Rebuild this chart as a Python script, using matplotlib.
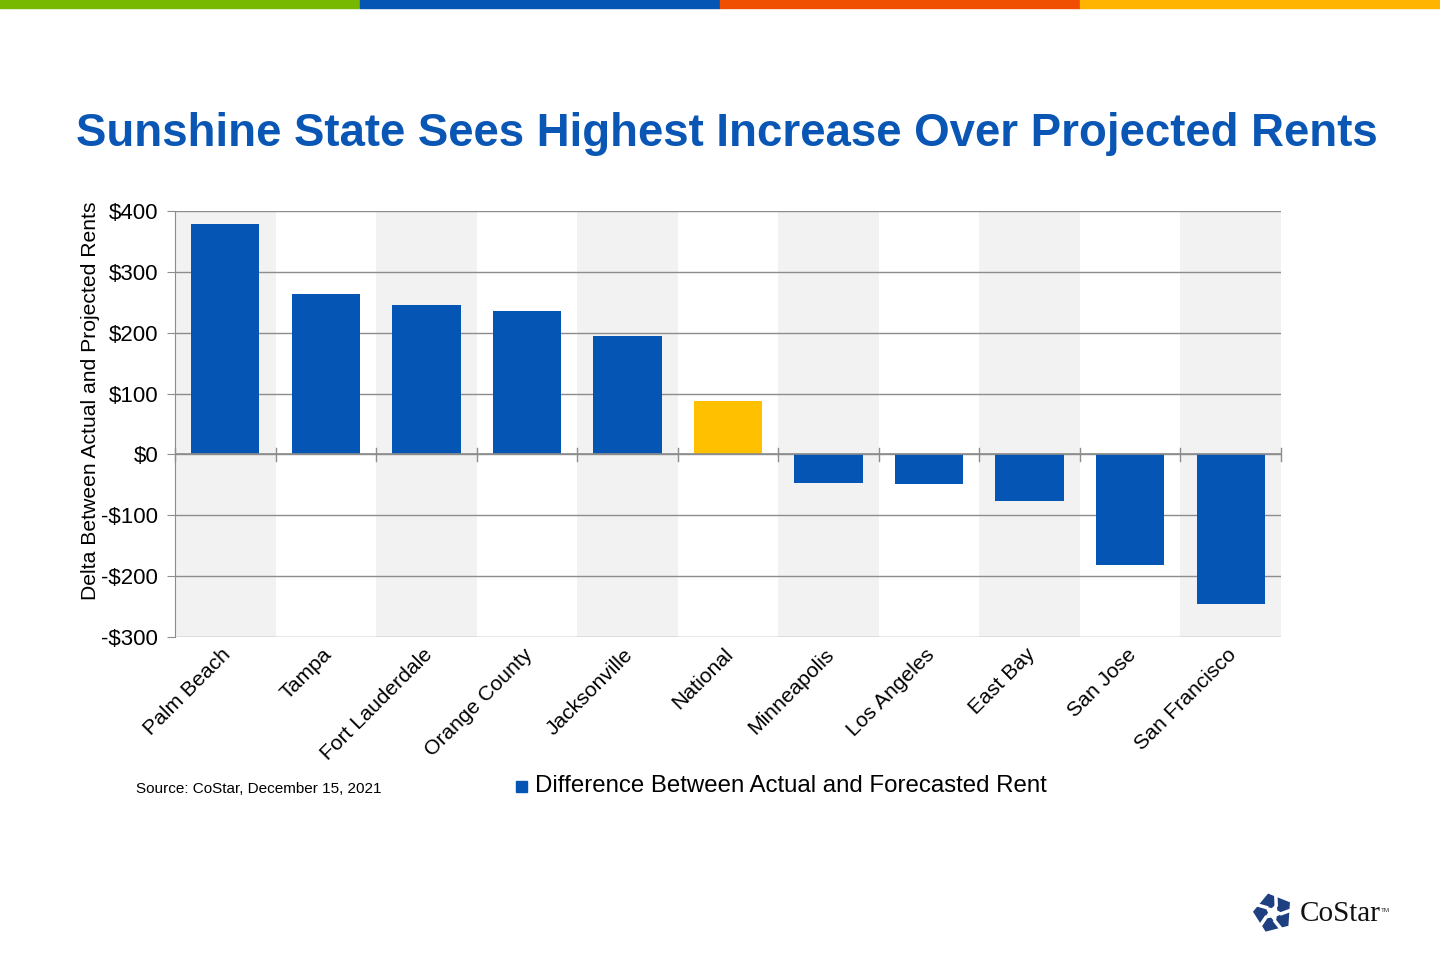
import numpy as np
import matplotlib.pyplot as plt
from matplotlib.patches import Polygon, Rectangle

# dados
cidades = ["Palm Beach", "Tampa", "Fort Lauderdale", "Orange County", "Jacksonville",
           "National", "Minneapolis", "Los Angeles", "East Bay", "San Jose", "San Francisco"]
delta = [379, 263, 245, 235, 194, 87, -47, -49, -77, -181, -245]
y_ticks = [-300, -200, -100, 0, 100, 200, 300, 400]

azul = '#0455B4'
amarelo = '#FFC000'
cores = [amarelo if c == "National" else azul for c in cidades]

plt.rcParams['font.family'] = ['Liberation Sans', 'DejaVu Sans']

fig = plt.figure(figsize=(14.4, 9.6), dpi=100)

# faixa colorida no topo
for i, c in enumerate(['#76B900', '#0455B4', '#F04E00', '#FFB400']):
    fig.patches.append(Rectangle((i * 0.25, 1 - 8 / 960), 0.25, 8 / 960,
                                 transform=fig.transFigure, color=c, zorder=0))

fig.text(0.505, 1 - 134 / 960, "Sunshine State Sees Highest Increase Over Projected Rents",
         ha='center', va='center', fontsize=32.9, fontweight='bold', color='#0A56B4')

ax = fig.add_axes([175 / 1440, 1 - 637 / 960, (1281 - 175) / 1440, (637 - 211) / 960])

x = np.arange(len(cidades))
# faixas cinza alternadas
for i in x:
    if i % 2 == 0:
        ax.axvspan(i - 0.5, i + 0.5, color='#F2F2F2', zorder=0, lw=0)

ax.bar(x, delta, width=0.68, color=cores, zorder=3)

ax.set_xlim(-0.5, len(cidades) - 0.5)
ax.set_ylim(-300, 400)
ax.set_yticks(y_ticks)
ax.set_yticklabels([f"${v}" if v >= 0 else f"-${-v}" for v in y_ticks], fontsize=16)
ax.yaxis.grid(True, color='#8C8C8C', lw=1)
ax.set_axisbelow(True)
ax.tick_params(axis='y', length=6, color='#8C8C8C', pad=6)

ax.set_xticks([])
# linha do zero com ticks nos limites das categorias
ax.axhline(0, color='#8C8C8C', lw=1.2, zorder=4)
for b in np.arange(-0.5, len(cidades), 1.0):
    ax.plot([b, b], [-10, 10], color='#8C8C8C', lw=1, zorder=4, clip_on=False)

for i, nome in enumerate(cidades):
    ax.text(i - 0.04, -313, nome, rotation=45, ha='right', va='top',
            rotation_mode='anchor', fontsize=15.2, transform=ax.transData)

for s in ['top', 'right', 'bottom']:
    ax.spines[s].set_visible(False)
ax.spines['left'].set_color('#8C8C8C')

ax.set_ylabel("Delta Between Actual and Projected Rents", fontsize=15.2)
ax.yaxis.set_label_coords((100 - 175) / 1106, (637 - 401) / 426)

# legenda
fig.patches.append(Rectangle((516 / 1440, 1 - 792 / 960), 11 / 1440, 11 / 960,
                             transform=fig.transFigure, color=azul))
fig.text(535 / 1440, 1 - 786 / 960, "Difference Between Actual and Forecasted Rent",
         fontsize=17.3, va='center')
fig.text(136 / 1440, 1 - 789 / 960, "Source: CoStar, December 15, 2021",
         fontsize=11, va='center', family=['Liberation Sans Narrow', 'Liberation Sans'])

# logo CoStar
lax = fig.add_axes([1250 / 1440, 1 - 936 / 960, 46 / 1440, 46 / 960])
lax.set_xlim(-1.2, 1.2)
lax.set_ylim(-1.2, 1.2)
lax.axis('off')
ang = np.pi / 2 + 0.25 + np.arange(5) * 2 * np.pi / 5
pent = np.c_[np.cos(ang), np.sin(ang)]
lax.add_patch(Polygon(pent, color='#1E3F80'))
star = []
for k in range(5):
    a1 = ang[k] + np.pi / 5
    star.append([0.22 * np.cos(ang[k]), 0.22 * np.sin(ang[k])])
    star.append([0.45 * np.cos(a1), 0.45 * np.sin(a1)])
lax.add_patch(Polygon(star, color='white'))
for k in range(5):
    a = ang[k] + np.pi / 5
    lax.plot([0.45 * np.cos(a), 1.1 * np.cos(a + 0.25)],
             [0.45 * np.sin(a), 1.1 * np.sin(a + 0.25)],
             color='white', lw=2.5)
fig.text(1300 / 1440, 1 - 914 / 960, "CoStar", fontsize=21, va='center',
         family=['Liberation Serif'], color='#111111')
fig.text(1381 / 1440, 1 - 910 / 960, "TM", fontsize=4.5, va='center', color='#333333')

plt.savefig('out.png', dpi=100)
